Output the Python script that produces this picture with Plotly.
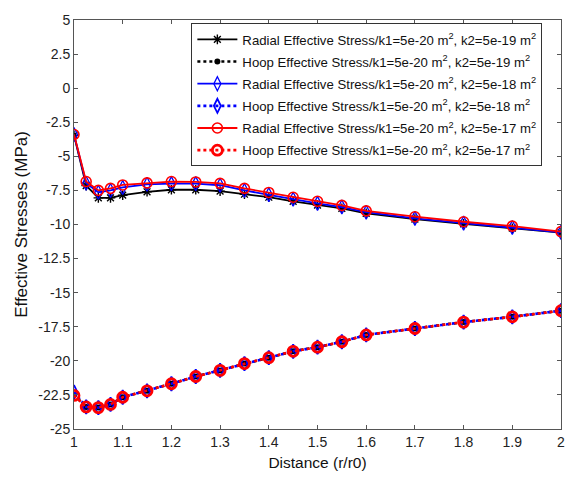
import plotly.graph_objects as go

# Radial distance (r/r0)
distance = [1.0, 1.025, 1.05, 1.075, 1.1, 1.15, 1.2, 1.25, 1.3, 1.35,
            1.4, 1.45, 1.5, 1.55, 1.6, 1.7, 1.8, 1.9, 2.0]

# Effective stresses (MPa), k1 = 5e-20 m^2
radial_k2_5e19 = [-3.45, -7.15, -8.05, -8.05, -7.85, -7.6, -7.45, -7.45, -7.55, -7.78,
                  -8.0, -8.3, -8.58, -8.82, -9.18, -9.6, -9.95, -10.27, -10.6]
hoop_k2_5e19 = [-22.5, -23.38, -23.43, -23.2, -22.67, -22.2, -21.68, -21.15, -20.7, -20.2,
                -19.77, -19.3, -19.0, -18.6, -18.1, -17.63, -17.16, -16.77, -16.32]
radial_k2_5e18 = [-3.4, -6.97, -7.63, -7.5, -7.28, -7.05, -7.0, -7.0, -7.12, -7.5,
                  -7.82, -8.15, -8.45, -8.72, -9.1, -9.55, -9.9, -10.22, -10.58]
hoop_k2_5e18 = [-22.3, -23.38, -23.43, -23.2, -22.67, -22.2, -21.68, -21.15, -20.7, -20.2,
                -19.77, -19.3, -19.0, -18.6, -18.1, -17.63, -17.16, -16.77, -16.32]
radial_k2_5e17 = [-3.4, -6.85, -7.5, -7.35, -7.1, -6.95, -6.85, -6.88, -6.98, -7.35,
                  -7.65, -8.0, -8.3, -8.6, -9.0, -9.43, -9.8, -10.12, -10.52]
hoop_k2_5e17 = [-22.54, -23.38, -23.43, -23.2, -22.67, -22.2, -21.68, -21.15, -20.7, -20.2,
                -19.77, -19.3, -19.0, -18.6, -18.1, -17.63, -17.16, -16.77, -16.32]

x_tick_vals = [1.0, 1.1, 1.2, 1.3, 1.4, 1.5, 1.6, 1.7, 1.8, 1.9, 2.0]
x_tick_text = ["1", "1.1", "1.2", "1.3", "1.4", "1.5", "1.6", "1.7", "1.8", "1.9", "2"]
y_tick_vals = [5, 2.5, 0, -2.5, -5, -7.5, -10, -12.5, -15, -17.5, -20, -22.5, -25]
y_tick_text = ["5", "2.5", "0", "-2.5", "-5", "-7.5", "-10", "-12.5", "-15", "-17.5",
               "-20", "-22.5", "-25"]

FONT = "Arial, Liberation Sans, sans-serif"
M2 = "m<sup>2</sup>"

series = [
    (f"Radial Effective Stress/k1=5e-20 {M2}, k2=5e-19 {M2}", radial_k2_5e19,
     "black", "solid", 1.8, "asterisk-open", 8, 1.4),
    (f"Hoop Effective Stress/k1=5e-20 {M2}, k2=5e-19 {M2}", hoop_k2_5e19,
     "black", "dot", 2.6, "circle", 6, 0),
    (f"Radial Effective Stress/k1=5e-20 {M2}, k2=5e-18 {M2}", radial_k2_5e18,
     "#0000ff", "solid", 1.8, "diamond-tall-open", 10, 1.3),
    (f"Hoop Effective Stress/k1=5e-20 {M2}, k2=5e-18 {M2}", hoop_k2_5e18,
     "#0000ff", "dot", 2.6, "diamond-tall-open", 10, 1.8),
    (f"Radial Effective Stress/k1=5e-20 {M2}, k2=5e-17 {M2}", radial_k2_5e17,
     "#ff0000", "solid", 1.8, "circle-open", 10, 1.6),
    (f"Hoop Effective Stress/k1=5e-20 {M2}, k2=5e-17 {M2}", hoop_k2_5e17,
     "#ff0000", "dot", 2.6, "circle-open", 10, 2.8),
]

fig = go.Figure()
for i, (name, yvals, color, dash, lw, symbol, msize, mlw) in enumerate(series):
    fig.add_trace(go.Scatter(
        x=distance, y=yvals, name=name, mode="lines+markers",
        legendgroup=f"g{i}",
        line=dict(color=color, dash=dash, width=lw),
        marker=dict(symbol=symbol, size=msize, color=color,
                    line=dict(color=color, width=mlw)),
    ))

axis_common = dict(
    showgrid=False, zeroline=False, showline=True, mirror="ticks",
    linecolor="#555555", linewidth=1, ticks="inside", ticklen=4,
    tickcolor="#555555", tickfont=dict(family=FONT, size=14, color="#222222"),
)

fig.update_layout(
    width=577, height=481,
    margin=dict(l=74, r=13, t=13, b=49),
    paper_bgcolor="white", plot_bgcolor="white",
    font=dict(family=FONT, color="#111111"),
    xaxis=dict(range=[1, 2], tickvals=x_tick_vals, ticktext=x_tick_text,
               title=dict(text="Distance (r/r0)", font=dict(family=FONT, size=15.5),
                          standoff=8),
               **axis_common),
    yaxis=dict(range=[-25, 5], tickvals=y_tick_vals, ticktext=y_tick_text,
               title=dict(text="Effective Stresses (MPa)", font=dict(family=FONT, size=17),
                          standoff=6),
               **axis_common),
    legend=dict(x=0.241, y=0.992, xanchor="left", yanchor="top",
                bgcolor="white", bordercolor="#333333", borderwidth=1,
                font=dict(family=FONT, size=13.2, color="#111111"),
                tracegroupgap=2, itemwidth=40),
    showlegend=True,
)

fig.write_html("out.html")
